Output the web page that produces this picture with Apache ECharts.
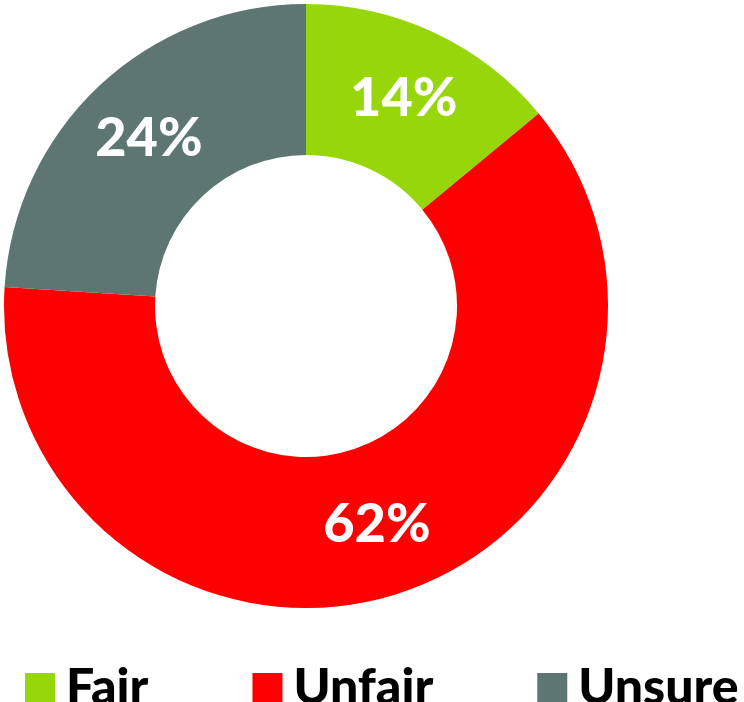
<!DOCTYPE html>
<html>
<head>
<meta charset="utf-8">
<script src="https://cdn.jsdelivr.net/npm/echarts@6/dist/echarts.min.js"></script>
<style>
  html, body { margin: 0; padding: 0; background: #fff; }
  #chart { width: 744px; height: 702px; }
</style>
</head>
<body>
<div id="chart"></div>
<script>
const categories = ['Fair', 'Unfair', 'Unsure']
const values = [14, 62, 24]
const colors = ['#97D60B', '#FF0000', '#5E7672']

let data = []
for (let i = 0; i < categories.length; i++) {
  data.push({
    name: categories[i],
    value: values[i],
    itemStyle: {color: colors[i]}
  })
}

const option = {
  animation: false,
  legend: {
    left: 20,
    top: 658,
    itemWidth: 30,
    itemHeight: 30,
    itemGap: 104,
    icon: 'rect',
    textStyle: {
      fontFamily: 'Lato',
      fontWeight: 900,
      fontSize: 50,
      color: '#000',
      padding: [0, 0, 12, 6]
    },
    data: categories
  },
  series: [
    {
      type: 'pie',
      center: [306, 306],
      radius: [151, 302],
      startAngle: 90,
      clockwise: true,
      avoidLabelOverlap: false,
      label: {
        show: true,
        position: 'inside',
        formatter: '{c}%',
        color: '#fff',
        fontFamily: 'Lato',
        fontWeight: 900,
        fontSize: 54
      },
      labelLine: {show: false},
      data: data
    }
  ]
}

const myChart = echarts.init(document.getElementById('chart'))
myChart.setOption(option)
</script>
</body>
</html>
